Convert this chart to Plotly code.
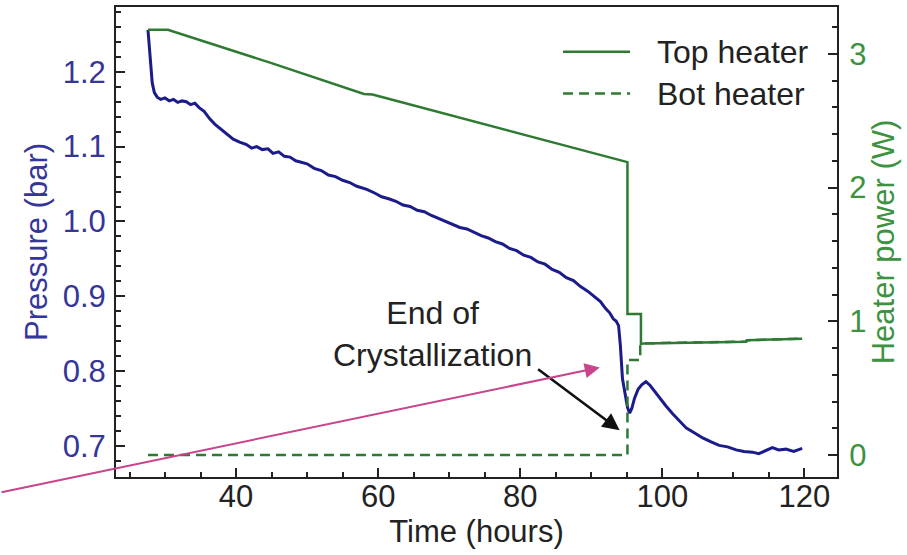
import plotly.graph_objects as go

# ---------------- data ----------------
p_time = [27.6, 27.8, 28.0, 28.2, 28.5, 28.9, 29.4, 30.0, 30.6, 31.2, 31.8, 32.4, 33.0,
          33.6, 34.2, 34.8, 35.5, 36.3, 37.0, 37.8, 38.6, 39.6, 40.5, 41.4, 42.2, 42.9,
          43.7, 44.5, 45.2, 46.0, 46.8, 47.6, 48.4, 49.2, 50.0, 51.0, 52.0, 53.0, 54.0,
          55.0, 56.0, 57.0, 58.4, 59.5, 60.5, 61.6, 62.5, 63.5, 64.5, 65.5, 66.5, 67.5,
          68.5, 69.5, 70.5, 71.5, 72.5, 73.5, 74.5, 75.5, 76.5, 77.5, 78.5, 79.5, 80.5,
          81.5, 82.5, 83.5, 84.5, 85.5, 86.5, 87.5, 88.5, 89.5, 90.5, 91.3, 92.0, 92.6,
          93.1, 93.5, 93.85, 94.1, 94.4, 94.8, 95.1, 95.4, 95.7, 96.1, 96.6, 97.1, 97.7,
          98.3, 99.0, 99.6, 100.5, 101.4, 102.4, 103.4, 104.5, 105.7, 106.8, 108.0,
          109.2, 110.4, 111.5, 112.7, 113.6, 114.5, 115.5, 116.4, 117.4, 118.5, 119.7]
pressure = [1.256, 1.232, 1.205, 1.185, 1.172, 1.166, 1.163, 1.165, 1.161, 1.163, 1.159,
            1.161, 1.160, 1.156, 1.158, 1.152, 1.147, 1.137, 1.130, 1.124, 1.117, 1.110,
            1.106, 1.103, 1.098, 1.100, 1.096, 1.097, 1.091, 1.093, 1.087, 1.086, 1.081,
            1.079, 1.077, 1.071, 1.068, 1.062, 1.060, 1.055, 1.052, 1.047, 1.043, 1.038,
            1.033, 1.030, 1.027, 1.022, 1.020, 1.015, 1.013, 1.008, 1.004, 1.001, 0.996,
            0.992, 0.990, 0.985, 0.981, 0.978, 0.973, 0.970, 0.964, 0.961, 0.955, 0.952,
            0.946, 0.943, 0.936, 0.932, 0.925, 0.921, 0.913, 0.907, 0.899, 0.893, 0.884,
            0.878, 0.870, 0.867, 0.861, 0.835, 0.790, 0.768, 0.752, 0.744, 0.750, 0.764,
            0.776, 0.782, 0.786, 0.781, 0.772, 0.765, 0.754, 0.744, 0.734, 0.724, 0.718,
            0.711, 0.706, 0.701, 0.699, 0.695, 0.693, 0.692, 0.690, 0.694, 0.698, 0.695,
            0.696, 0.693, 0.697]

top_time = [27.6, 30.4, 45.0, 58.0, 59.2, 60.0, 95.1, 95.1, 97.0, 97.0, 97.4, 102.4,
            111.8, 111.9, 119.7]
top_power = [3.18, 3.18, 2.93, 2.70, 2.695, 2.685, 2.19, 1.055, 1.055, 0.83, 0.835, 0.840,
             0.848, 0.858, 0.870]

bot_time = [27.6, 95.1, 95.1, 96.9, 96.9, 97.4, 102.4, 111.8, 111.9, 119.7]
bot_power = [0.0, 0.0, 0.71, 0.71, 0.83, 0.835, 0.840, 0.848, 0.858, 0.870]

x_ticks = [40, 60, 80, 100, 120]
p_ticks = [0.7, 0.8, 0.9, 1.0, 1.1, 1.2]
w_ticks = [0, 1, 2, 3]

series_names = ["Top heater", "Bot heater"]
annotation_text = "End of<br>Crystallization"

# ---------------- styling ----------------
FONT = "Liberation Sans, Arial, sans-serif"
NAVY = "#1b1b8a"
NAVY_TXT = "#35359a"
GREEN = "#2f7a33"
GREEN_TXT = "#3c923f"
PINK = "#c8448c"
TICK_SIZE = 31
TITLE_SIZE = 31

fig = go.Figure()

fig.add_trace(go.Scatter(x=bot_time, y=bot_power, yaxis="y2", mode="lines",
                         name=series_names[1], showlegend=False,
                         line=dict(color=GREEN, width=2.5, dash="10px,6px")))
fig.add_trace(go.Scatter(x=top_time, y=top_power, yaxis="y2", mode="lines",
                         name=series_names[0], showlegend=False,
                         line=dict(color=GREEN, width=2.5)))
fig.add_trace(go.Scatter(x=p_time, y=pressure, yaxis="y", mode="lines",
                         name="Pressure", showlegend=False,
                         line=dict(color=NAVY, width=3)))

fig.update_layout(
    width=907, height=555,
    margin=dict(l=116, r=70, t=5, b=78),
    paper_bgcolor="white", plot_bgcolor="white",
    font=dict(family=FONT, size=TICK_SIZE, color="#222222"),
    xaxis=dict(range=[23.1, 124.6], tickvals=x_ticks, ticks="inside", ticklen=9,
               tickwidth=2, tickcolor="#222", showline=True, linewidth=2,
               linecolor="#222", mirror=True, showgrid=False, zeroline=False,
               tickfont=dict(size=TICK_SIZE, color="#222"), ticklabelstandoff=-9,
               minor=dict(dtick=5, tick0=0, ticks="inside", ticklen=5, tickwidth=1.5,
                          tickcolor="#222", showgrid=False),
               title=dict(text="Time (hours)", font=dict(size=TITLE_SIZE, color="#222"),
                          standoff=2)),
    yaxis=dict(range=[0.6588, 1.2864], tickvals=p_ticks, tickformat=".1f",
               ticks="inside", ticklen=9, tickwidth=2, tickcolor="#222",
               showline=True, linewidth=2, linecolor="#222", showgrid=False,
               zeroline=False, tickfont=dict(size=TICK_SIZE, color=NAVY_TXT),
               ticklabelstandoff=2,
               minor=dict(dtick=0.02, tick0=0, ticks="inside", ticklen=5,
                          tickwidth=1.5, tickcolor="#222", showgrid=False),
               title=dict(text="Pressure (bar)", font=dict(size=TITLE_SIZE, color=NAVY_TXT),
                          standoff=6)),
    yaxis2=dict(range=[-0.164, 3.35], tickvals=w_ticks, overlaying="y", side="right",
                ticks="inside", ticklen=9, tickwidth=2, tickcolor="#222",
                showline=True, linewidth=2, linecolor="#222", showgrid=False,
                zeroline=False, tickfont=dict(size=TICK_SIZE, color=GREEN_TXT),
                ticklabelstandoff=4,
                minor=dict(dtick=0.2, tick0=0, ticks="inside", ticklen=5,
                           tickwidth=1.5, tickcolor="#222", showgrid=False),
                title=dict(text="Heater power (W)", font=dict(size=TITLE_SIZE, color=GREEN_TXT),
                           standoff=6)),
)

# custom legend (long line samples like the reference)
leg_rows = [(0.9047, "solid"), (0.8157, "10px,6px")]
for (yy, dash), name in zip(leg_rows, series_names):
    fig.add_shape(type="line", xref="paper", yref="paper", x0=0.620, x1=0.713,
                  y0=yy, y1=yy, line=dict(color=GREEN, width=2.5, dash=dash))
    fig.add_annotation(xref="paper", yref="paper", x=0.7476, y=yy, text=name,
                       showarrow=False, xanchor="left", yanchor="middle",
                       font=dict(size=32, color="#222"))

# text annotation + black arrow
fig.add_annotation(x=67.7, y=0.850, xref="x", yref="y", text=annotation_text,
                   showarrow=False, font=dict(size=32, color="#222"), align="center",
                   xanchor="center", yanchor="middle")
fig.add_annotation(x=94.0, y=0.7213, xref="x", yref="y", text="", showarrow=True,
                   ax=-83, ay=-62, arrowhead=2, arrowsize=1.3, arrowwidth=2.6,
                   arrowcolor="#111")
# pink arrow
fig.add_annotation(x=91.2, y=0.805, xref="x", yref="y", text="", showarrow=True,
                   ax=-600, ay=125, arrowhead=2, arrowsize=1.5, arrowwidth=2,
                   arrowcolor=PINK)

fig.write_html("out.html")
